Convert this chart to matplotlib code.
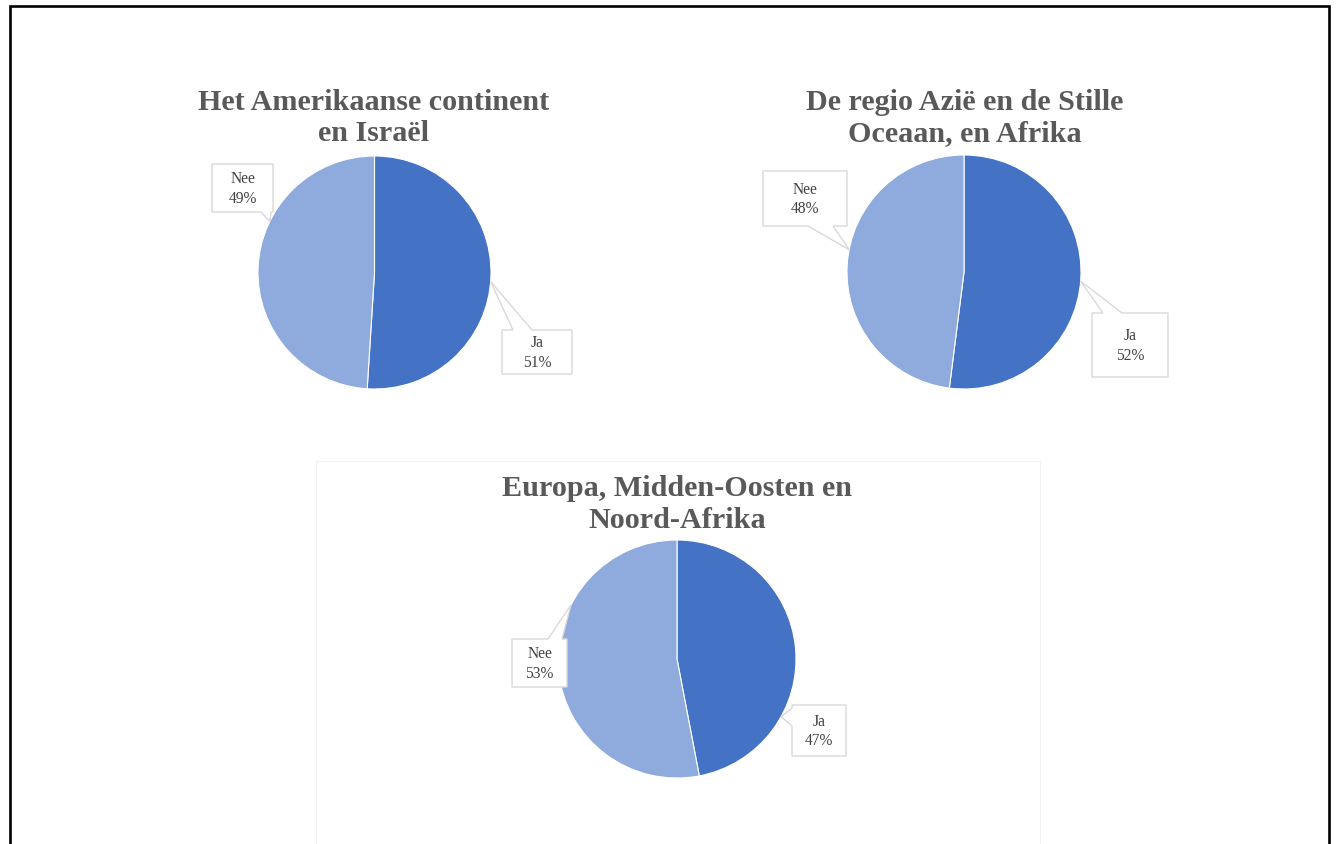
import matplotlib
matplotlib.use("Agg")
import matplotlib.pyplot as plt
from matplotlib.patches import Polygon
import numpy as np

# --- data -------------------------------------------------------------
titles = [
    "Het Amerikaanse continent\nen Israël",
    "De regio Azië en de Stille\nOceaan, en Afrika",
    "Europa, Midden-Oosten en\nNoord-Afrika",
]
categories = ["Ja", "Nee"]
ja_share = [51, 52, 47]
nee_share = [49, 48, 53]

# --- styling ----------------------------------------------------------
W, H = 1336, 845
DPI = 100
colors = ["#4472C4", "#8FAADC"]
title_color = "#595959"
label_color = "#404040"
box_edge = "#D9D9D9"
serif = ["Liberation Serif", "DejaVu Serif"]

fig = plt.figure(figsize=(W / DPI, H / DPI), dpi=DPI)
fig.patch.set_facecolor("white")

# overlay axes in pixel coordinates (origin top-left)
ov = fig.add_axes([0, 0, 1, 1])
ov.set_xlim(0, W)
ov.set_ylim(H, 0)
ov.axis("off")
ov.set_zorder(5)
ov.patch.set_alpha(0)

# page frame (open at the bottom)
ov.plot([10, 10, 1329, 1329], [H + 5, 7, 7, H + 5], color="black",
        lw=1.9, solid_joinstyle="miter", clip_on=False)

# faint frame of the lower chart area
ov.plot([316, 316, 1040, 1040], [H + 5, 462, 462, H + 5], color="#F2F2F2",
        lw=0.8, clip_on=False)

# pie layout: centre (px), radius (px), title centre
layout = [
    dict(c=(374.5, 273.5), r=116.5, t=(374, 118)),
    dict(c=(964, 273), r=117, t=(965, 118)),
    dict(c=(677, 660), r=119, t=(677, 504.5)),
]

# callouts per chart: (box x0, y0, x1, y1), edge, base span, tip angle (deg clockwise from top)
callouts = [
    {
        "Ja": dict(box=(502, 331, 572, 375), edge="top", base=(513, 532), ang=94.5),
        "Nee": dict(box=(212, 165, 273, 213), edge="bottom", base=(261, 271), ang=296),
    },
    {
        "Ja": dict(box=(1092, 314, 1168, 378), edge="top", base=(1103, 1122), ang=94.5),
        "Nee": dict(box=(763, 172, 847, 227), edge="bottom", base=(808, 833), ang=281),
    },
    {
        "Ja": dict(box=(792, 706, 846, 757), edge="left", base=(709, 727), ang=119),
        "Nee": dict(box=(512, 640, 567, 688), edge="top", base=(548, 562), ang=297),
    },
]


def callout_polygon(box, edge, base, tip):
    x0, y0, x1, y1 = box
    a, b = base
    if edge == "top":
        pts = [(x0, y0), (a, y0), tip, (b, y0), (x1, y0), (x1, y1), (x0, y1)]
    elif edge == "bottom":
        pts = [(x0, y0), (x1, y0), (x1, y1), (b, y1), tip, (a, y1), (x0, y1)]
    elif edge == "left":
        pts = [(x0, y0), (x1, y0), (x1, y1), (x0, y1), (x0, b), tip, (x0, a)]
    else:  # right
        pts = [(x0, y0), (x1, y0), (x1, a), tip, (x1, b), (x1, y1), (x0, y1)]
    return pts


for i, lay in enumerate(layout):
    cx, cy = lay["c"]
    r = lay["r"]
    ax = fig.add_axes([(cx - r) / W, 1 - (cy + r) / H, 2 * r / W, 2 * r / H])
    values = [ja_share[i], nee_share[i]]
    ax.pie(values, colors=colors, startangle=90, counterclock=False, radius=1.0,
           wedgeprops=dict(edgecolor="white", linewidth=0.8))
    ax.set_xlim(-1, 1)
    ax.set_ylim(-1, 1)
    ax.set_aspect("auto")
    ax.axis("off")

    tx, ty = lay["t"]
    ov.text(tx, ty, titles[i], ha="center", va="center", fontsize=21.7,
            fontweight="bold", color=title_color, family=serif, linespacing=1.22)

    for cat, val in zip(categories, values):
        co = callouts[i][cat]
        th = np.deg2rad(co["ang"])
        tip = (cx + r * np.sin(th), cy - r * np.cos(th))
        poly = Polygon(callout_polygon(co["box"], co["edge"], co["base"], tip),
                       closed=True, facecolor="white", edgecolor=box_edge, lw=1.0)
        ov.add_patch(poly)
        x0, y0, x1, y1 = co["box"]
        ov.text((x0 + x1) / 2, (y0 + y1) / 2, f"{cat}\n{val}%", ha="center",
                va="center", fontsize=11.2, color=label_color, family=serif,
                linespacing=1.3)

fig.savefig("out.png", dpi=DPI, facecolor="white")
